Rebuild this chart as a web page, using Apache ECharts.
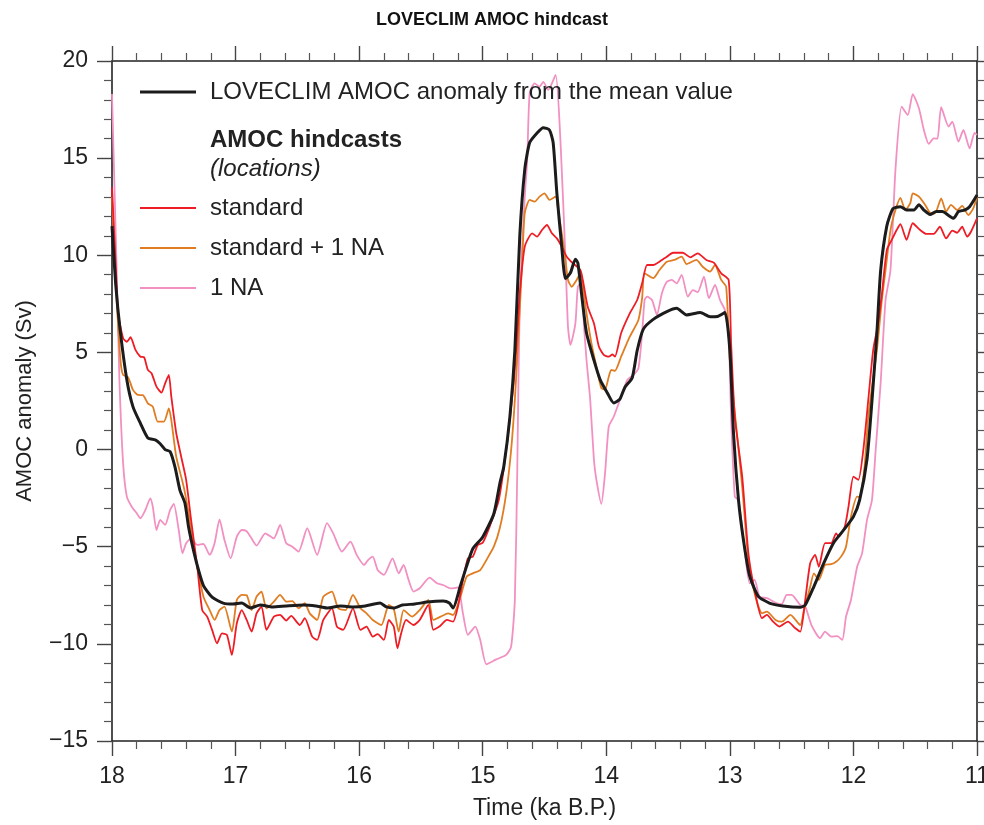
<!DOCTYPE html>
<html>
<head>
<meta charset="utf-8">
<title>LOVECLIM AMOC hindcast</title>
<script src="https://cdn.jsdelivr.net/npm/echarts@6/dist/echarts.min.js"></script>
<style>
    html, body { margin: 0; padding: 0; background: #fff; overflow: hidden; }
    /* chart fills the whole window */
    #chart { width: 984px; height: 825px; }
</style>
</head>
<body>
<div id="chart"></div>
<script>
    // ka B.P. / Sv
    var loveclimTime = [18.00, 17.97, 17.935, 17.88, 17.83, 17.77, 17.71, 17.65, 17.61, 17.57, 17.53, 17.49, 17.45, 17.41, 17.38, 17.34, 17.30, 17.26, 17.19, 17.10, 17.02, 16.95, 16.88, 16.80, 16.70, 16.59, 16.45, 16.35, 16.26, 16.15, 16.05, 15.95, 15.83, 15.78, 15.72, 15.65, 15.55, 15.45, 15.32, 15.27, 15.24, 15.18, 15.13, 15.08, 15.00, 14.91, 14.86, 14.83, 14.78, 14.74, 14.70, 14.66, 14.62, 14.56, 14.51, 14.46, 14.43, 14.40, 14.36, 14.33, 14.29, 14.25, 14.23, 14.20, 14.16, 14.10, 14.05, 13.99, 13.94, 13.89, 13.85, 13.79, 13.75, 13.70, 13.62, 13.51, 13.43, 13.35, 13.24, 13.16, 13.10, 13.04, 13.00, 12.97, 12.93, 12.89, 12.84, 12.77, 12.68, 12.57, 12.43, 12.39, 12.32, 12.24, 12.16, 12.08, 12.00, 11.95, 11.89, 11.85, 11.81, 11.78, 11.73, 11.68, 11.62, 11.57, 11.51, 11.47, 11.43, 11.38, 11.33, 11.28, 11.23, 11.19, 11.15, 11.10, 11.06, 11.00];
    var loveclimAmoc = [11.5, 8.5, 6.2, 3.6, 2.2, 1.35, 0.6, 0.5, 0.3, 0.0, -0.1, -0.9, -2.1, -2.75, -4.0, -5.2, -6.2, -7.0, -7.6, -7.9, -7.95, -7.9, -8.15, -8.0, -8.1, -8.05, -8.0, -8.05, -8.15, -8.05, -8.1, -8.05, -7.9, -8.1, -8.15, -8.0, -7.95, -7.85, -7.8, -7.9, -8.15, -7.0, -6.0, -5.1, -4.5, -3.3, -1.7, -0.9, 1.7, 5.1, 11.0, 14.4, 15.8, 16.3, 16.57, 16.45, 15.8, 13.2, 10.4, 8.8, 9.1, 9.8, 9.6, 8.0, 6.0, 4.6, 3.6, 2.9, 2.4, 2.6, 3.2, 3.7, 5.1, 6.2, 6.7, 7.1, 7.27, 6.93, 7.05, 6.84, 6.85, 7.05, 5.1, 0.8, -2.6, -4.65, -6.5, -7.55, -7.9, -8.05, -8.12, -8.0, -7.05, -5.85, -4.8, -4.15, -3.45, -2.6, -0.5, 2.5, 6.0, 9.2, 11.5, 12.4, 12.5, 12.33, 12.33, 12.6, 12.33, 12.1, 12.25, 12.25, 12.05, 11.9, 12.25, 12.33, 12.5, 13.1];

    var standardTime = [18.00, 17.97, 17.95, 17.91, 17.88, 17.85, 17.81, 17.77, 17.74, 17.71, 17.68, 17.64, 17.60, 17.57, 17.54, 17.52, 17.48, 17.44, 17.40, 17.36, 17.31, 17.27, 17.23, 17.19, 17.15, 17.11, 17.07, 17.03, 16.99, 16.95, 16.91, 16.87, 16.83, 16.79, 16.75, 16.69, 16.64, 16.59, 16.55, 16.48, 16.44, 16.38, 16.34, 16.29, 16.22, 16.18, 16.13, 16.05, 15.99, 15.94, 15.89, 15.85, 15.80, 15.76, 15.72, 15.69, 15.66, 15.62, 15.56, 15.51, 15.44, 15.40, 15.35, 15.29, 15.24, 15.20, 15.16, 15.12, 15.08, 15.04, 15.00, 14.94, 14.87, 14.81, 14.75, 14.72, 14.70, 14.66, 14.60, 14.56, 14.52, 14.48, 14.44, 14.40, 14.36, 14.32, 14.27, 14.21, 14.19, 14.15, 14.10, 14.06, 14.02, 13.98, 13.95, 13.93, 13.88, 13.81, 13.75, 13.71, 13.67, 13.62, 13.57, 13.51, 13.46, 13.38, 13.32, 13.26, 13.19, 13.13, 13.07, 13.01, 12.99, 12.96, 12.90, 12.85, 12.80, 12.74, 12.70, 12.65, 12.60, 12.53, 12.47, 12.43, 12.39, 12.35, 12.31, 12.28, 12.23, 12.18, 12.14, 12.12, 12.07, 12.04, 12.00, 11.96, 11.92, 11.88, 11.84, 11.80, 11.77, 11.73, 11.69, 11.65, 11.62, 11.57, 11.52, 11.46, 11.41, 11.35, 11.30, 11.25, 11.20, 11.16, 11.12, 11.08, 11.05, 11.00];
    var standardAmoc = [13.5, 9.5, 7.0, 5.73, 5.55, 5.78, 5.13, 4.78, 4.75, 4.1, 3.93, 3.24, 2.93, 3.41, 3.84, 2.72, 0.84, -0.37, -1.56, -3.62, -6.03, -8.26, -8.6, -9.28, -9.97, -9.46, -9.54, -10.57, -8.94, -8.26, -8.77, -9.37, -8.43, -8.08, -9.28, -8.6, -8.51, -8.8, -8.56, -9.03, -8.68, -9.63, -9.8, -8.77, -8.17, -9.11, -9.28, -8.17, -9.28, -9.11, -9.63, -9.5, -9.8, -8.77, -9.11, -10.23, -9.46, -8.77, -9.03, -8.77, -8.0, -9.28, -9.11, -8.77, -8.86, -8.08, -6.71, -5.6, -5.51, -4.91, -4.8, -3.9, -2.6, -0.02, 3.41, 5.99, 8.04, 10.44, 11.13, 10.96, 11.3, 11.56, 11.13, 10.87, 10.44, 9.93, 9.59, 9.24, 8.73, 7.35, 6.5, 5.3, 4.87, 4.78, 4.9, 4.78, 5.99, 7.01, 7.7, 8.56, 9.5, 9.5, 9.67, 9.93, 10.13, 10.13, 9.89, 10.1, 9.76, 9.62, 9.07, 8.73, 5.5, 1.69, -1.39, -5.34, -7.23, -8.68, -8.51, -8.86, -9.11, -8.86, -9.2, -9.37, -7.74, -5.85, -5.42, -6.03, -4.82, -4.82, -4.31, -4.48, -3.97, -2.94, -1.39, -1.56, -0.02, 2.55, 5.13, 6.5, 8.0, 10.27, 10.79, 11.3, 11.6, 10.79, 11.65, 11.3, 11.1, 11.1, 11.47, 10.87, 11.27, 11.16, 11.47, 10.96, 11.2, 11.9];

    var standardNaTime = [18.00, 17.96, 17.93, 17.91, 17.87, 17.83, 17.79, 17.75, 17.71, 17.67, 17.63, 17.58, 17.54, 17.52, 17.48, 17.42, 17.38, 17.34, 17.30, 17.26, 17.21, 17.17, 17.13, 17.09, 17.03, 16.99, 16.95, 16.91, 16.87, 16.83, 16.79, 16.75, 16.69, 16.64, 16.59, 16.54, 16.49, 16.44, 16.40, 16.34, 16.29, 16.22, 16.17, 16.11, 16.05, 15.99, 15.94, 15.89, 15.82, 15.76, 15.72, 15.68, 15.64, 15.57, 15.51, 15.44, 15.40, 15.34, 15.28, 15.24, 15.18, 15.13, 15.08, 15.02, 14.97, 14.91, 14.86, 14.81, 14.77, 14.74, 14.71, 14.68, 14.66, 14.62, 14.58, 14.54, 14.50, 14.46, 14.41, 14.39, 14.36, 14.33, 14.31, 14.28, 14.24, 14.21, 14.19, 14.16, 14.12, 14.08, 14.04, 14.01, 13.98, 13.96, 13.93, 13.88, 13.81, 13.74, 13.71, 13.69, 13.62, 13.57, 13.51, 13.45, 13.39, 13.35, 13.27, 13.22, 13.16, 13.12, 13.07, 13.03, 13.00, 12.97, 12.90, 12.85, 12.80, 12.74, 12.70, 12.63, 12.58, 12.51, 12.43, 12.40, 12.35, 12.32, 12.28, 12.23, 12.18, 12.14, 12.10, 12.06, 12.02, 11.97, 11.95, 11.91, 11.88, 11.81, 11.77, 11.74, 11.70, 11.66, 11.62, 11.58, 11.54, 11.52, 11.47, 11.42, 11.38, 11.34, 11.29, 11.25, 11.21, 11.16, 11.12, 11.07, 11.03, 11.00];
    var standardNaAmoc = [13.0, 7.5, 4.5, 3.84, 3.72, 3.07, 2.81, 2.8, 2.38, 2.21, 1.44, 1.44, 2.12, 1.52, -0.37, -1.91, -3.28, -5.0, -6.37, -7.57, -8.26, -8.77, -8.26, -8.08, -9.37, -7.74, -7.48, -7.5, -8.26, -7.57, -7.31, -8.17, -7.83, -7.48, -7.83, -7.8, -8.17, -7.91, -8.43, -8.77, -7.57, -7.31, -8.17, -8.26, -7.48, -8.17, -8.43, -8.77, -9.03, -8.0, -8.2, -9.37, -8.26, -8.6, -8.26, -7.74, -8.77, -8.6, -8.43, -8.51, -7.57, -6.54, -6.37, -6.2, -5.68, -5.0, -4.0, -2.25, -0.02, 2.55, 5.99, 9.76, 12.16, 12.85, 12.76, 13.02, 13.19, 12.85, 13.02, 12.33, 11.13, 9.76, 8.73, 8.38, 8.73, 9.07, 8.4, 7.01, 5.47, 4.27, 3.16, 3.1, 3.75, 4.1, 4.05, 4.78, 5.81, 6.67, 7.8, 9.07, 8.82, 9.24, 9.67, 9.76, 9.93, 9.55, 9.76, 9.41, 9.16, 9.5, 8.73, 8.38, 4.61, 2.55, -1.91, -5.68, -7.4, -8.43, -8.34, -8.77, -8.86, -8.51, -9.03, -8.26, -7.06, -6.37, -6.71, -5.94, -5.9, -5.77, -5.51, -5.0, -3.45, -2.42, -2.45, -0.88, 1.69, 5.13, 7.7, 9.24, 11.3, 12.33, 12.96, 12.33, 12.68, 13.19, 13.02, 12.6, 12.19, 12.16, 12.93, 12.25, 12.59, 12.33, 12.54, 12.07, 12.42, 13.0];

    var oneNaTime = [18.00, 17.96, 17.94, 17.91, 17.88, 17.84, 17.80, 17.77, 17.73, 17.69, 17.67, 17.64, 17.61, 17.57, 17.53, 17.50, 17.46, 17.43, 17.40, 17.36, 17.31, 17.26, 17.21, 17.17, 17.13, 17.09, 17.04, 16.99, 16.95, 16.91, 16.88, 16.83, 16.76, 16.69, 16.64, 16.59, 16.54, 16.49, 16.42, 16.34, 16.26, 16.21, 16.14, 16.07, 16.02, 15.96, 15.93, 15.89, 15.85, 15.80, 15.73, 15.68, 15.64, 15.60, 15.56, 15.51, 15.43, 15.37, 15.32, 15.26, 15.20, 15.16, 15.12, 15.06, 15.02, 14.97, 14.89, 14.81, 14.77, 14.74, 14.72, 14.70, 14.66, 14.64, 14.62, 14.58, 14.54, 14.51, 14.47, 14.41, 14.37, 14.33, 14.31, 14.29, 14.25, 14.23, 14.20, 14.18, 14.16, 14.13, 14.10, 14.08, 14.04, 14.01, 13.98, 13.94, 13.89, 13.83, 13.78, 13.74, 13.71, 13.69, 13.67, 13.63, 13.59, 13.55, 13.51, 13.47, 13.43, 13.39, 13.34, 13.30, 13.26, 13.21, 13.17, 13.12, 13.08, 13.04, 13.01, 12.99, 12.96, 12.93, 12.89, 12.84, 12.80, 12.76, 12.70, 12.62, 12.58, 12.54, 12.50, 12.43, 12.39, 12.34, 12.27, 12.23, 12.18, 12.13, 12.09, 12.06, 12.02, 11.97, 11.93, 11.89, 11.85, 11.82, 11.78, 11.74, 11.70, 11.66, 11.61, 11.56, 11.52, 11.47, 11.43, 11.39, 11.35, 11.32, 11.29, 11.23, 11.20, 11.15, 11.11, 11.06, 11.02, 11.00];
    var oneNaAmoc = [18.3, 8.7, 3.58, -0.71, -2.42, -2.94, -3.28, -3.54, -3.11, -2.51, -2.94, -4.14, -3.62, -3.88, -3.11, -2.8, -4.14, -5.34, -4.82, -4.57, -4.91, -4.86, -5.42, -4.82, -3.59, -4.65, -5.6, -4.48, -4.14, -4.2, -4.48, -4.94, -4.31, -4.57, -3.88, -4.82, -5.0, -5.25, -4.05, -5.42, -3.79, -4.31, -5.25, -4.74, -5.42, -5.94, -5.7, -5.51, -6.2, -6.45, -5.6, -6.37, -5.94, -6.71, -7.31, -7.14, -6.59, -6.88, -6.97, -7.14, -7.1, -8.43, -9.54, -9.11, -9.8, -11.05, -10.8, -10.57, -10.14, -7.74, -0.88, 7.7, 13.0, 14.9, 18.34, 18.85, 18.68, 18.93, 18.51, 19.28, 15.76, 9.76, 6.33, 5.38, 6.5, 8.38, 8.64, 6.33, 4.61, 2.55, -0.53, -1.56, -2.8, -1.22, 1.18, 1.69, 2.55, 3.58, 3.84, 4.18, 5.99, 7.7, 7.87, 7.7, 6.93, 8.04, 8.64, 8.73, 8.55, 8.99, 7.87, 8.21, 8.1, 8.9, 7.79, 8.47, 7.7, 7.18, 6.0, 1.69, -2.42, -2.6, -4.6, -6.88, -6.71, -7.57, -7.65, -7.91, -7.95, -7.48, -7.48, -8.0, -8.08, -9.03, -9.71, -9.37, -9.63, -9.6, -9.8, -8.6, -7.74, -6.03, -5.34, -3.62, -2.6, -0.02, 3.41, 7.7, 9.24, 14.39, 17.65, 17.22, 18.3, 17.57, 16.45, 15.73, 16.02, 16.0, 17.62, 16.62, 16.88, 15.85, 16.45, 15.5, 16.3, 16.2];

    var yTicks = [-15, -10, -5, 0, 5, 10, 15, 20];
    var xTicks = [18, 17, 16, 15, 14, 13, 12, 11];

    var FONT = '"Liberation Sans", Arial, Helvetica, sans-serif';

    function zip(t, v) {
        var out = [];
        for (var i = 0; i < t.length; i++) out.push([t[i], v[i]]);
        return out;
    }

    function xAxisCfg(pos) {
        return {
            type: 'value',
            position: pos,
            min: xTicks[xTicks.length - 1],
            max: xTicks[0],
            interval: 1,
            inverse: true,
            axisLine: { show: true, onZero: false, lineStyle: { color: '#222', width: 1.6 } },
            axisTick: { show: true, inside: false, length: 15, lineStyle: { color: '#444', width: 1.4 } },
            minorTick: { show: true, splitNumber: 5, length: 8, lineStyle: { color: '#555', width: 1.2 } },
            splitLine: { show: false },
            axisLabel: {
                show: pos === 'bottom',
                margin: 24,
                fontSize: 23,
                fontFamily: FONT,
                color: '#222'
            }
        };
    }

    function yAxisCfg(pos) {
        return {
            type: 'value',
            position: pos,
            min: yTicks[0],
            max: yTicks[yTicks.length - 1],
            interval: 5,
            axisLine: { show: true, onZero: false, lineStyle: { color: '#222', width: 1.6 } },
            axisTick: { show: true, inside: false, length: 15, lineStyle: { color: '#444', width: 1.4 } },
            minorTick: { show: true, splitNumber: 5, length: 8, lineStyle: { color: '#555', width: 1.2 } },
            splitLine: { show: false },
            axisLabel: {
                show: pos === 'left',
                margin: 24,
                fontSize: 23,
                fontFamily: FONT,
                color: '#222',
                formatter: function (v) { return String(v).replace('-', '\u2212'); }
            }
        };
    }

    var myChart = echarts.init(document.getElementById('chart'));

    var xBottom = xAxisCfg('bottom');
    xBottom.name = 'Time (ka B.P.)';
    xBottom.nameLocation = 'middle';
    xBottom.nameGap = 56;
    xBottom.nameTextStyle = { fontSize: 23, fontFamily: FONT, color: '#222' };

    var yLeft = yAxisCfg('left');
    yLeft.name = 'AMOC anomaly (Sv)';
    yLeft.nameLocation = 'middle';
    yLeft.nameGap = 76;
    yLeft.nameTextStyle = { fontSize: 22, fontFamily: FONT, color: '#222' };

    function lineSeries(name, data, color, width, z) {
        return {
            name: name,
            type: 'line',
            data: data,
            symbol: 'none',
            smooth: 0.2,
            z: z,
            lineStyle: { color: color, width: width },
            itemStyle: { color: color }
        };
    }

    var option = {
        backgroundColor: '#fff',
        animation: false,
        title: {
            text: 'LOVECLIM AMOC hindcast',
            left: 'center',
            top: 6,
            textStyle: { fontSize: 18, fontWeight: 'bold', fontFamily: FONT, color: '#111' }
        },
        // v6 would otherwise shrink the grid so the "11" label fits inside
        grid: { left: 112, right: 7, top: 61, bottom: 84, containLabel: false, outerBoundsMode: 'none' },
        legend: [{
            data: ['LOVECLIM AMOC anomaly from the mean value'],
            left: 140,
            top: 80,
            padding: 0,
            icon: 'rect',
            itemWidth: 56,
            itemHeight: 3,
            textStyle: { fontSize: 24, fontFamily: FONT, color: '#222', padding: [0, 0, 0, 9] }
        }, {
            data: ['standard', 'standard + 1 NA', '1 NA'],
            orient: 'vertical',
            left: 140,
            top: 196,
            padding: 0,
            itemGap: 16,
            icon: 'rect',
            itemWidth: 56,
            itemHeight: 2,
            textStyle: { fontSize: 24, fontFamily: FONT, color: '#222', padding: [0, 0, 0, 9] }
        }],
        graphic: [{
            type: 'text',
            left: 210,
            top: 128,
            style: { text: 'AMOC hindcasts', font: 'bold 24px ' + FONT, fill: '#222' }
        }, {
            type: 'text',
            left: 210,
            top: 157,
            style: { text: '(locations)', font: 'italic 24px ' + FONT, fill: '#222' }
        }],
        xAxis: [xBottom, xAxisCfg('top')],
        yAxis: [yLeft, yAxisCfg('right')],
        series: [
            lineSeries('1 NA', zip(oneNaTime, oneNaAmoc), '#f290c2', 1.8, 2),
            lineSeries('standard + 1 NA', zip(standardNaTime, standardNaAmoc), '#e07d22', 1.8, 3),
            lineSeries('standard', zip(standardTime, standardAmoc), '#ee1d25', 1.8, 4),
            lineSeries('LOVECLIM AMOC anomaly from the mean value', zip(loveclimTime, loveclimAmoc), '#1c1c1c', 3, 5)
        ]
    };

    myChart.setOption(option);
</script>
</body>
</html>
